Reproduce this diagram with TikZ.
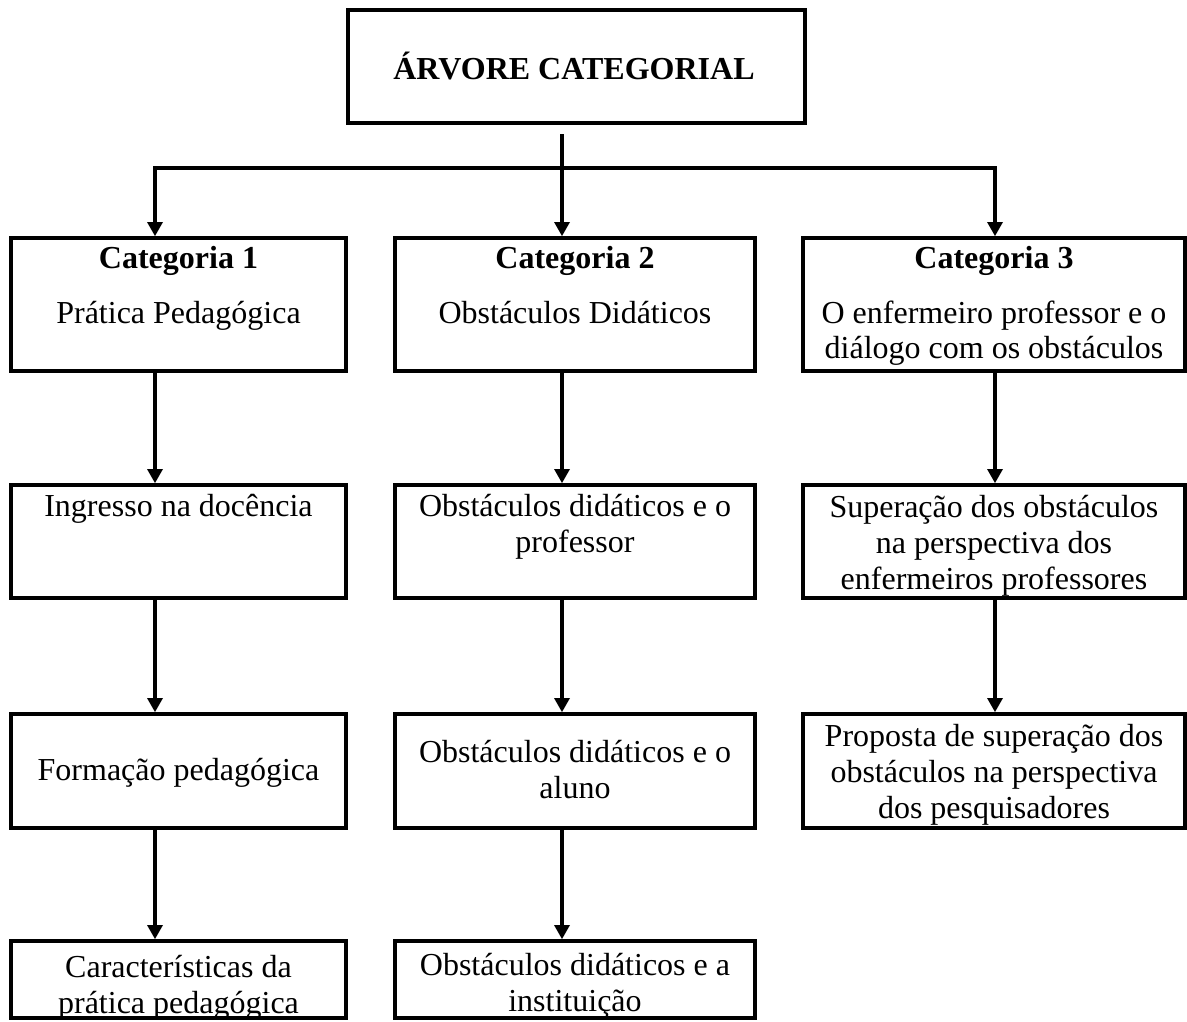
\documentclass[tikz,border=0pt]{standalone}
\usepackage{fontspec}
\setmainfont{Liberation Serif}
\usetikzlibrary{arrows.meta}
\newcommand{\mylines}[1]{\begin{tabular}[t]{@{}c@{}}#1\end{tabular}}
\begin{document}
\begin{tikzpicture}[x=1pt,y=-1pt,
  box/.style={draw, line width=4pt, inner sep=0pt},
  txt/.style={anchor=base, inner sep=0pt, font=\fontsize{32}{36}\selectfont},
  tipx/.tip={Triangle[length=14pt,width=16pt,line width=0pt]},
  conn/.style={line width=3.5pt, -tipx},
  conn2/.style={line width=3.5pt, tipx-tipx, line join=miter}
]
\useasboundingbox (0,0) rectangle (1187,1021);

% boxes
\node[box, minimum width=457.5pt, minimum height=113pt] (top) at (576.25,66) {};

\node[box, minimum width=335pt, minimum height=133pt] (b11) at (178.5,304.5) {};
\node[box, minimum width=360pt, minimum height=133pt] (b12) at (575,304.5) {};
\node[box, minimum width=382pt, minimum height=133pt] (b13) at (994,304.5) {};

\node[box, minimum width=335pt, minimum height=113pt] (b21) at (178.5,541.5) {};
\node[box, minimum width=360pt, minimum height=113pt] (b22) at (575,541.5) {};
\node[box, minimum width=382pt, minimum height=113pt] (b23) at (994,541.5) {};

\node[box, minimum width=335pt, minimum height=114pt] (b31) at (178.5,771) {};
\node[box, minimum width=360pt, minimum height=114pt] (b32) at (575,771) {};
\node[box, minimum width=382pt, minimum height=114pt] (b33) at (994,771) {};

\node[box, minimum width=335pt, minimum height=77pt] (b41) at (178.5,979.5) {};
\node[box, minimum width=360pt, minimum height=77pt] (b42) at (575,979.5) {};

% texts
\node[txt] (t0) at (574,79) {\textbf{ÁRVORE CATEGORIAL}};

\node[txt] (t11) at (178.5,268) {\mylines{\textbf{Categoria 1}\\[19pt] Prática Pedagógica}};
\node[txt] (t12) at (575,268) {\mylines{\textbf{Categoria 2}\\[19pt] Obstáculos Didáticos}};
\node[txt] (t13) at (994,268) {\mylines{\textbf{Categoria 3}\\[19pt] O enfermeiro professor e o\\[-1pt] diálogo com os obstáculos}};

\node[txt] (t21) at (178.5,516) {\mylines{Ingresso na docência}};
\node[txt] (t22) at (575,516) {\mylines{Obstáculos didáticos e o\\ professor}};
\node[txt] (t23) at (994,517) {\mylines{Superação dos obstáculos\\ na perspectiva dos\\ enfermeiros professores}};

\node[txt] (t31) at (178.5,780) {\mylines{Formação pedagógica}};
\node[txt] (t32) at (575,762) {\mylines{Obstáculos didáticos e o\\ aluno}};
\node[txt] (t33) at (994,746) {\mylines{Proposta de superação dos\\ obstáculos na perspectiva\\ dos pesquisadores}};

\node[txt] (t41) at (178.5,977) {\mylines{Características da\\ prática pedagógica}};
\node[txt] (t42) at (575,975) {\mylines{Obstáculos didáticos e a\\ instituição}};

% connector coordinates
\coordinate (x1) at (155,0);
\coordinate (x2) at (562,0);
\coordinate (x3) at (995,0);
\coordinate (s) at (562,134);
\coordinate (jl) at (155,168);
\coordinate (jr) at (995,168);

% top connectors
\draw[conn] (s) -- (s |- b12.north);
\draw[conn2] (jl |- b11.north) -- (jl) -- (jr) -- (jr |- b13.north);

% column 1
\draw[conn] (x1 |- b11.south) -- (x1 |- b21.north);
\draw[conn] (x1 |- b21.south) -- (x1 |- b31.north);
\draw[conn] (x1 |- b31.south) -- (x1 |- b41.north);
% column 2
\draw[conn] (x2 |- b12.south) -- (x2 |- b22.north);
\draw[conn] (x2 |- b22.south) -- (x2 |- b32.north);
\draw[conn] (x2 |- b32.south) -- (x2 |- b42.north);
% column 3
\draw[conn] (x3 |- b13.south) -- (x3 |- b23.north);
\draw[conn] (x3 |- b23.south) -- (x3 |- b33.north);
\end{tikzpicture}
\end{document}
